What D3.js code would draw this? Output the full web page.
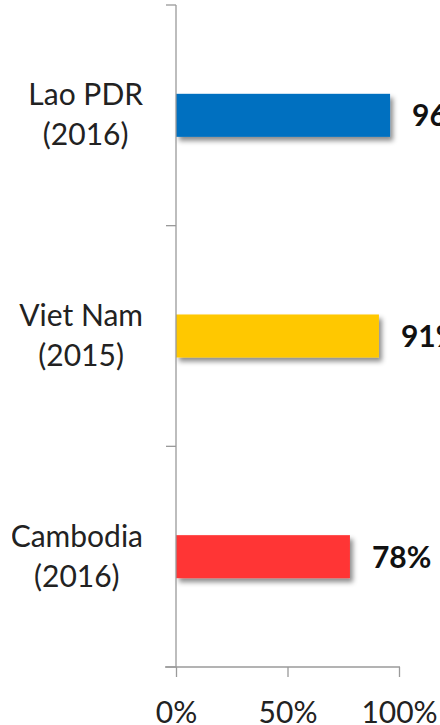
<!DOCTYPE html>
<html>
<head>
<meta charset="utf-8">
<script src="https://cdn.jsdelivr.net/npm/d3@7"></script>
<style>
  html, body { margin: 0; padding: 0; background: #fff; }
  svg { display: block; }
</style>
</head>
<body>
<svg id="chart" width="440" height="725"></svg>
<script>
// Countries (two-line labels) and their shares
const countries = ["Lao PDR", "Viet Nam", "Cambodia"];
const years = ["(2016)", "(2015)", "(2016)"];
const shares = [0.96, 0.91, 0.78];
const barColors = ["#0070C0", "#FFC800", "#FF3535"];
const xTicks = [0, 0.5, 1];

const W = 440, H = 725;
const plotLeft = 176, plotRight = 399, plotTop = 5, plotBottom = 667;
const FONT = "Lato, 'Open Sans', sans-serif";

const svg = d3.select("#chart");

const defs = svg.append("defs");
const shadow = defs.append("filter").attr("id", "barShadow")
  .attr("x", "-10%").attr("y", "-30%").attr("width", "130%").attr("height", "180%");
shadow.append("feDropShadow")
  .attr("dx", 3).attr("dy", 4).attr("stdDeviation", 2.5)
  .attr("flood-color", "#000").attr("flood-opacity", 0.45);
defs.append("clipPath").attr("id", "labelClip")
  .append("rect").attr("x", 12).attr("y", 0).attr("width", W).attr("height", H);

const x = d3.scaleLinear().domain([0, 1]).range([plotLeft, plotRight]);
// Category slots (boundaries carry the ticks) and bars centred in each slot
const slots = d3.scaleBand().domain(countries).range([plotTop, plotBottom]).padding(0);
const y = d3.scaleBand().domain(countries).range([plotTop, plotBottom])
  .paddingInner(0.805).paddingOuter(0.4025);

const axisColor = "#9a9a9a";

// Bars
svg.append("g").selectAll("rect")
  .data(countries)
  .join("rect")
  .attr("x", x(0))
  .attr("y", d => y(d))
  .attr("width", (d, i) => x(shares[i]) - x(0))
  .attr("height", y.bandwidth())
  .attr("fill", (d, i) => barColors[i])
  .attr("filter", "url(#barShadow)");

// Vertical axis with ticks on slot boundaries
const bounds = countries.map(d => slots(d)).concat([plotBottom]);
const yAxis = svg.append("g").attr("stroke", axisColor).attr("stroke-width", 1.3);
yAxis.append("line").attr("x1", plotLeft).attr("x2", plotLeft).attr("y1", plotTop).attr("y2", plotBottom);
yAxis.selectAll("line.tick").data(bounds).join("line").attr("class", "tick")
  .attr("x1", plotLeft - 10).attr("x2", plotLeft).attr("y1", d => d).attr("y2", d => d);

// Horizontal axis
const xAxis = svg.append("g").attr("transform", `translate(0,${plotBottom})`)
  .call(d3.axisBottom(x).tickValues(xTicks).tickFormat(d3.format(".0%"))
    .tickSize(10).tickPadding(0));
xAxis.select(".domain").attr("d", `M${plotLeft - 11},0H${plotRight + 1}`)
  .attr("stroke", axisColor).attr("stroke-width", 1.3);
xAxis.selectAll(".tick line").attr("stroke", axisColor).attr("stroke-width", 1.3);
xAxis.selectAll(".tick text")
  .attr("y", 56).attr("dy", null)
  .attr("fill", "#222").attr("font-family", FONT).attr("font-size", 30);

// Category labels: two centred lines, block right-aligned next to the axis
const labels = svg.append("g").attr("clip-path", "url(#labelClip)")
  .attr("font-family", FONT).attr("font-size", 30).attr("fill", "#222")
  .attr("text-anchor", "middle");
countries.forEach((c, i) => {
  const cy = y(c) + y.bandwidth() / 2;
  const g = labels.append("g");
  const t1 = g.append("text").attr("y", cy - 10).text(c);
  const t2 = g.append("text").attr("y", cy + 30).text(years[i]);
  const w = Math.max(t1.node().getComputedTextLength(), t2.node().getComputedTextLength());
  const cx = 143 - w / 2;
  t1.attr("x", cx);
  t2.attr("x", cx);
});

// Value labels
svg.append("g").selectAll("text")
  .data(countries)
  .join("text")
  .attr("x", (d, i) => x(shares[i]) + 22)
  .attr("y", d => y(d) + y.bandwidth() / 2 + 11)
  .attr("font-family", FONT).attr("font-size", 30).attr("font-weight", "bold")
  .attr("fill", "#111")
  .text((d, i) => d3.format(".0%")(shares[i]));
</script>
</body>
</html>
